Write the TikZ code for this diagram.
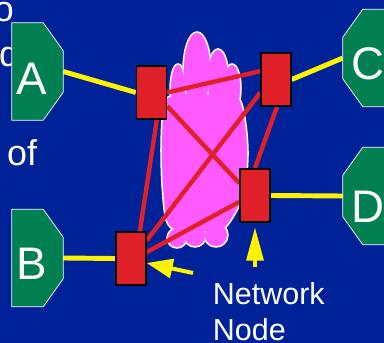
\documentclass[tikz,border=0pt]{standalone}
\usepackage{fontspec}
\setmainfont{Liberation Sans}
\usetikzlibrary{arrows.meta}

\definecolor{slideblue}{RGB}{0,34,152}
\definecolor{sitegreen}{RGB}{0,128,80}
\definecolor{switchred}{RGB}{224,32,40}
\definecolor{cloudpink}{RGB}{255,90,255}

\pgfdeclarelayer{backdrop}
\pgfdeclarelayer{links}
\pgfsetlayers{backdrop,links,main}

\begin{document}
\begin{tikzpicture}[x=0.03cm, y=-0.03cm,
		site/.style={minimum width=1.53cm, minimum height=2.91cm, inner sep=0pt},
		sitebox/.style={fill=sitegreen, draw=white, line width=0.6pt},
		letter/.style={text=white, inner sep=0pt, font=\fontsize{39}{39}\selectfont},
		slidetext/.style={text=white, inner sep=0pt, font=\fontsize{30.6}{36}\selectfont},
		switch/.style={draw=black, fill=switchred, line width=1.2pt, minimum width=0.9cm, minimum height=1.6cm, inner sep=0pt},
		trunk/.style={switchred, line width=3.8pt},
		access/.style={yellow, line width=4.2pt},
		pointer/.style={yellow, line width=3.4pt},
		cloudpart/.style 2 args={fill=#1, draw=#1, line width=#2}]
	\useasboundingbox (0,0) rectangle (384,343);
	\clip (0,0) rectangle (384,343);

	\begin{pgfonlayer}{backdrop}
		\fill[slideblue] (0,0) rectangle (384,343);
		% white rim first, then the pink body on top
		\foreach \ink/\rim in {white/3pt, cloudpink/0.2pt} {
			\path[cloudpart={\ink}{\rim}] plot[smooth cycle] coordinates {(166,100) (182,94) (200,95) (222,95) (239,100) (245,125) (247,155) (244,190) (235,212) (222,229) (200,231) (178,231) (167,220) (163,185) (162,150) (163,120)};
			\path[cloudpart={\ink}{\rim}] (178,90) ellipse [x radius=0.21cm, y radius=0.75cm];
			\path[cloudpart={\ink}{\rim}] (197,70) ellipse [x radius=0.39cm, y radius=1.11cm];
			\path[cloudpart={\ink}{\rim}] (218,80) ellipse [x radius=0.3cm, y radius=0.9cm];
			\path[cloudpart={\ink}{\rim}] (232,88) ellipse [x radius=0.24cm, y radius=0.69cm];
			\path[cloudpart={\ink}{\rim}] (177,238) circle [radius=0.27cm];
			\path[cloudpart={\ink}{\rim}] (195,236) circle [radius=0.3cm];
			\path[cloudpart={\ink}{\rim}] (216,235) circle [radius=0.33cm];
		}
	\end{pgfonlayer}

	\node[slidetext, anchor=base east] (t1) at (14,22) {o};
	\node[slidetext, anchor=base west] (t2) at (-1,67) {d};
	\node[slidetext, anchor=base west] (t3) at (7,166) {of};

	\node[switch] (n1) at (151.5,92.5) {};
	\node[switch] (n2) at (276,79.5) {};
	\node[switch] (n3) at (255,195.5) {};
	\node[switch] (n4) at (131,258.5) {};

	\node[site] (A) at (37.5,71.5) {};
	\node[site] (B) at (37.5,258) {};
	\node[site] (C) at (368.5,58) {};
	\node[site] (D) at (368.5,196) {};

	\foreach \s in {A,B}
		\filldraw[sitebox] (\s.north west) -- ([xshift=-0.6cm]\s.north east) -- ([yshift=-0.84cm]\s.north east)
			-- ([yshift=0.84cm]\s.south east) -- ([xshift=-0.6cm]\s.south east) -- (\s.south west) -- cycle;
	\foreach \s in {C,D}
		\filldraw[sitebox] (\s.north east) -- ([xshift=0.6cm]\s.north west) -- ([yshift=-0.84cm]\s.north west)
			-- ([yshift=0.84cm]\s.south west) -- ([xshift=0.6cm]\s.south west) -- (\s.south east) -- cycle;

	\node[letter] (lA) at (32,78.5) {A};
	\node[letter] (lB) at (31.5,264) {B};
	\node[letter] (lC) at (368,63.5) {C};
	\node[letter] (lD) at (367.5,206.5) {D};

	\begin{pgfonlayer}{links}
		\draw[trunk] (n1.east) -- (n2.152);
		\draw[trunk] (n1.319) -- (n3.142);
		\draw[trunk] (n2.220) -- (n4.49);
		\draw[trunk] (n2.272) -- (n3.north);
		\draw[trunk] (n1.281) -- (n4.72);
		\draw[trunk] (n3.202) -- (n4.22);

		\draw[access] (A.east) -- (n1.west);
		\draw[access] (B.east) -- (n4.west);
		\draw[access] (n2.east) -- (C.west);
		\draw[access] (n3.east) -- (D.west);
	\end{pgfonlayer}

	\coordinate (p1) at (193,273);
	\coordinate (p2) at (255,267);
	\draw[pointer, -{Triangle[length=0.78cm, width=0.57cm]}] (p1) -- (n4.344);
	\draw[pointer, -{Triangle[length=1cm, width=0.5cm]}, shorten >=0.13cm] (p2) -- (n3.south);

	\node[slidetext, anchor=base west, font=\fontsize{26}{30}\selectfont] (net1) at (212.7,305) {Network};
	\node[slidetext, anchor=base west, font=\fontsize{26}{30}\selectfont] (net2) at (212.7,341) {Node};
\end{tikzpicture}
\end{document}
